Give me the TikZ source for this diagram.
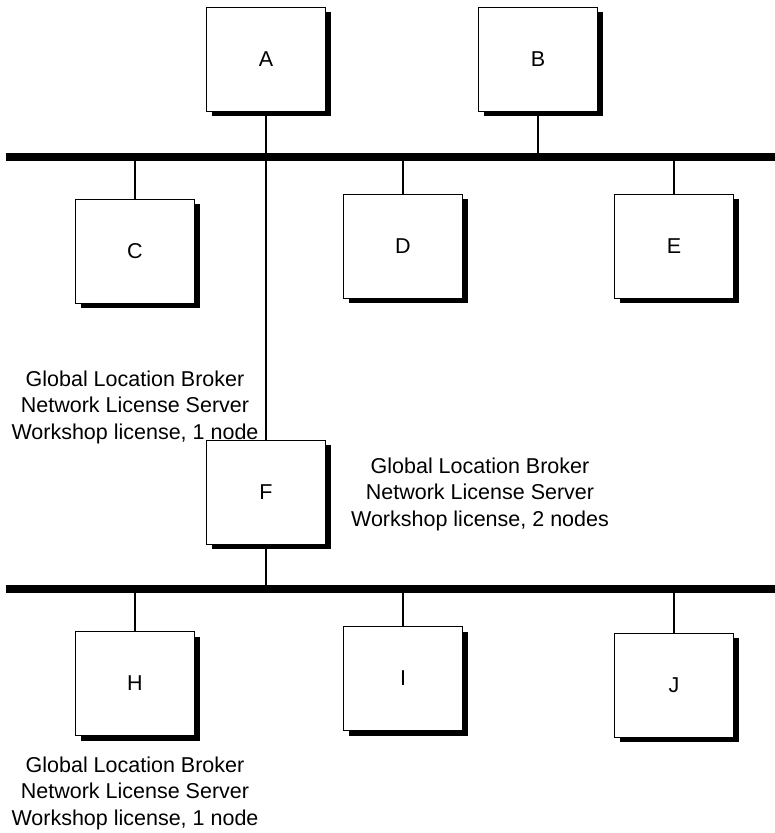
\documentclass[tikz,border=0pt]{standalone}
\usepackage{fontspec}
\setmainfont{Liberation Sans}
\usetikzlibrary{shadows}
\begin{document}
\begin{tikzpicture}[x=1pt,y=-1pt,
  hostbox/.style={draw=black, line width=0.9pt, fill=white,
    minimum width=119pt, minimum height=104pt, inner sep=0pt,
    font=\fontsize{21.5}{26.5}\selectfont,
    drop shadow={shadow xshift=5pt, shadow yshift=-5pt, fill=black, opacity=1}},
  caption/.style={align=center, inner sep=0pt,
    font=\fontsize{21.5}{26.5}\selectfont},
  bus/.style={line width=8pt},
  tap/.style={line width=1.2pt}]
  \useasboundingbox (0,0) rectangle (775,833);

  % network segments
  \coordinate (n1w) at (6,156.5);
  \coordinate (n1e) at (775,156.5);
  \coordinate (n2w) at (6,589);
  \coordinate (n2e) at (775,589);

  % hosts
  \node[hostbox] (A) at (266,59) {A};
  \node[hostbox] (B) at (538,59) {B};
  \node[hostbox] (C) at (135,251) {C};
  \node[hostbox] (D) at (403,246) {D};
  \node[hostbox] (E) at (674,246) {E};
  \node[hostbox] (F) at (266,492) {F};
  \node[hostbox] (H) at (135,683.5) {H};
  \node[hostbox] (I) at (403,678.5) {I};
  \node[hostbox] (J) at (674,685) {J};

  % captions
  \node[caption] (capC) at (135,407) {Global Location Broker\\Network License Server\\Workshop license, 1 node};
  \node[caption] (capF) at (480,494) {Global Location Broker\\Network License Server\\Workshop license, 2 nodes};
  \node[caption] (capH) at (135,793) {Global Location Broker\\Network License Server\\Workshop license, 1 node};

  % taps from the hosts onto the segments
  \draw[tap] (A.south) -- (F.north);
  \draw[tap] (B.south) -- (B.south |- n1w);
  \draw[tap] (C.north) -- (C.north |- n1w);
  \draw[tap] (D.north) -- (D.north |- n1w);
  \draw[tap] (E.north) -- (E.north |- n1w);
  \draw[tap] (F.south) -- (F.south |- n2w);
  \draw[tap] (H.north) -- (H.north |- n2w);
  \draw[tap] (I.north) -- (I.north |- n2w);
  \draw[tap] (J.north) -- (J.north |- n2w);

  \draw[bus] (n1w) -- (n1e);
  \draw[bus] (n2w) -- (n2e);
\end{tikzpicture}
\end{document}
